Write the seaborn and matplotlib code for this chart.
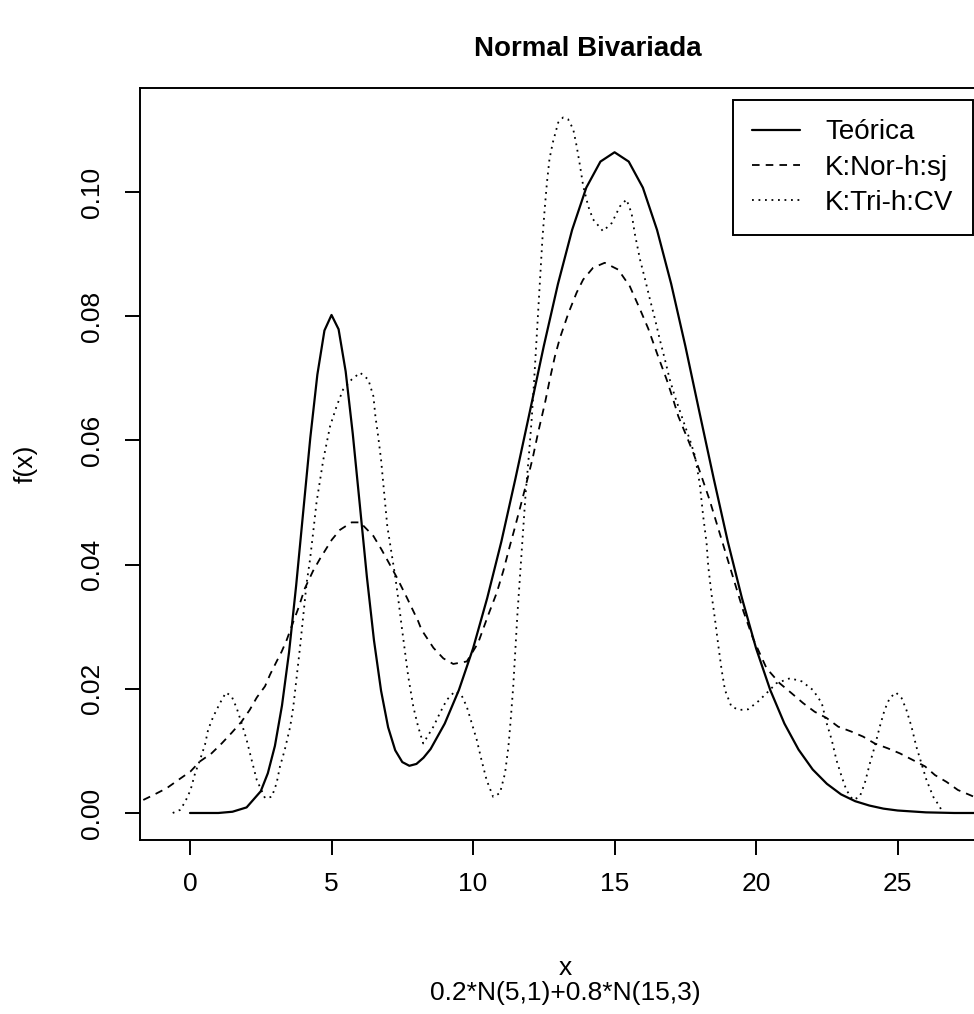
import matplotlib
matplotlib.use("Agg")
import matplotlib.pyplot as plt
import seaborn as sns

# Teórica: 0.2*N(5,1)+0.8*N(15,3), values
x_teorica = [0, 0.5, 1, 1.5, 2, 2.5, 2.75, 3, 3.25, 3.5,
             3.75, 4, 4.25, 4.5, 4.75, 5, 5.25, 5.5, 5.75, 6,
             6.25, 6.5, 6.75, 7, 7.25, 7.5, 7.75, 8, 8.25, 8.5,
             9, 9.5, 10, 10.5, 11, 11.5, 12, 12.5, 13, 13.5,
             14, 14.5, 15, 15.5, 16, 16.5, 17, 17.5, 18, 18.5,
             19, 19.5, 20, 20.5, 21, 21.5, 22, 22.5, 23, 23.5,
             24, 24.5, 25, 26, 27, 28]
y_teorica = [0.0000, 0.0000, 0.0000, 0.0002, 0.0009, 0.0035, 0.0064, 0.0108, 0.0173, 0.0259,
             0.0366, 0.0485, 0.0604, 0.0706, 0.0777, 0.0802, 0.0779, 0.0711, 0.0611, 0.0496,
             0.0380, 0.0278, 0.0197, 0.0138, 0.0101, 0.0082, 0.0076, 0.0079, 0.0089, 0.0103,
             0.0144, 0.0198, 0.0265, 0.0346, 0.0437, 0.0539, 0.0645, 0.0752, 0.0852, 0.0939,
             0.1007, 0.1049, 0.1064, 0.1049, 0.1007, 0.0939, 0.0852, 0.0752, 0.0645, 0.0539,
             0.0437, 0.0346, 0.0265, 0.0198, 0.0144, 0.0102, 0.0070, 0.0047, 0.0030, 0.0019,
             0.0012, 0.0007, 0.0004, 0.0001, 0.0000, 0.0000]

# K:Nor-h:sj (dashed)
x_nor_sj = [-1.65, -1.29, -0.82, -0.42, 0.02, 0.35, 0.76, 1.12, 1.47, 1.82,
            2.11, 2.36, 2.65, 2.83, 3.06, 3.24, 3.42, 3.65, 3.83, 4.06,
            4.35, 4.60, 5.01, 5.30, 5.71, 6.01, 6.48, 6.77, 7.00, 7.30,
            7.66, 8.06, 8.18, 8.60, 8.95, 9.30, 9.78, 10.18, 10.53, 10.84,
            11.07, 11.30, 11.48, 11.71, 11.89, 12.10, 12.31, 12.54, 12.72, 12.89,
            13.07, 13.37, 13.66, 13.89, 14.24, 14.65, 15.13, 15.54, 15.90, 16.19,
            16.54, 16.84, 17.07, 17.25, 17.55, 17.78, 18.05, 18.35, 18.65, 18.95,
            19.25, 19.55, 19.90, 20.37, 20.83, 21.25, 21.66, 22.07, 22.49, 22.90,
            23.37, 23.78, 24.19, 24.66, 25.08, 25.55, 25.97, 26.32, 26.73, 27.13,
            27.55, 28.00]
y_nor_sj = [0.0021, 0.0029, 0.0040, 0.0053, 0.0067, 0.0083, 0.0096, 0.0112, 0.0129, 0.0147,
            0.0166, 0.0186, 0.0204, 0.0223, 0.0244, 0.0260, 0.0279, 0.0308, 0.0330, 0.0362,
            0.0390, 0.0410, 0.0440, 0.0456, 0.0468, 0.0468, 0.0446, 0.0424, 0.0405, 0.0380,
            0.0347, 0.0309, 0.0295, 0.0266, 0.0249, 0.0240, 0.0244, 0.0274, 0.0318, 0.0355,
            0.0390, 0.0430, 0.0460, 0.0500, 0.0532, 0.0570, 0.0615, 0.0660, 0.0700, 0.0735,
            0.0765, 0.0805, 0.0838, 0.0859, 0.0878, 0.0886, 0.0875, 0.0848, 0.0811, 0.0780,
            0.0735, 0.0698, 0.0666, 0.0639, 0.0606, 0.0580, 0.0545, 0.0505, 0.0460, 0.0415,
            0.0370, 0.0325, 0.0280, 0.0233, 0.0209, 0.0193, 0.0177, 0.0163, 0.0153, 0.0139,
            0.0131, 0.0123, 0.0112, 0.0104, 0.0096, 0.0085, 0.0075, 0.0061, 0.0050, 0.0037,
            0.0029, 0.0020]

# K:Tri-h:CV (dotted)
x_tri_cv = [-0.61, -0.35, -0.17, 0.02, 0.18, 0.35, 0.53, 0.64, 0.82, 1.06,
            1.27, 1.47, 1.65, 1.82, 2.00, 2.18, 2.36, 2.65, 2.89, 3.06,
            3.18, 3.35, 3.54, 3.65, 3.77, 3.89, 4.00, 4.12, 4.24, 4.35,
            4.47, 4.60, 4.71, 4.95, 5.18, 5.41, 5.71, 6.01, 6.30, 6.48,
            6.55, 6.65, 6.75, 6.86, 6.97, 7.12, 7.25, 7.36, 7.48, 7.60,
            7.71, 7.89, 8.06, 8.24, 8.60, 8.83, 9.07, 9.36, 9.59, 9.78,
            9.95, 10.13, 10.30, 10.48, 10.71, 10.95, 11.13, 11.25, 11.33, 11.42,
            11.50, 11.57, 11.65, 11.72, 11.79, 11.86, 11.93, 11.98, 12.07, 12.16,
            12.23, 12.31, 12.38, 12.45, 12.53, 12.61, 12.70, 12.82, 13.01, 13.18,
            13.36, 13.54, 13.66, 13.78, 13.89, 14.07, 14.24, 14.59, 14.90, 15.19,
            15.42, 15.60, 15.71, 15.90, 16.08, 16.25, 16.43, 16.60, 16.78, 16.95,
            17.13, 17.31, 17.49, 17.66, 17.84, 18.01, 18.13, 18.25, 18.31, 18.42,
            18.55, 18.67, 18.78, 18.90, 19.13, 19.42, 19.72, 20.08, 20.37, 20.72,
            21.20, 21.61, 22.01, 22.32, 22.49, 22.67, 22.84, 23.02, 23.19, 23.42,
            23.66, 23.84, 24.02, 24.19, 24.37, 24.54, 24.72, 24.94, 25.14, 25.31,
            25.49, 25.66, 25.84, 26.02, 26.26, 26.49, 26.59]
y_tri_cv = [0.0000, 0.0005, 0.0018, 0.0037, 0.0064, 0.0085, 0.0110, 0.0134, 0.0155, 0.0177,
            0.0194, 0.0188, 0.0169, 0.0145, 0.0118, 0.0085, 0.0053, 0.0024, 0.0026, 0.0048,
            0.0075, 0.0102, 0.0139, 0.0171, 0.0220, 0.0268, 0.0317, 0.0370, 0.0408, 0.0451,
            0.0500, 0.0537, 0.0569, 0.0623, 0.0655, 0.0682, 0.0698, 0.0709, 0.0698, 0.0671,
            0.0639, 0.0606, 0.0569, 0.0516, 0.0462, 0.0419, 0.0381, 0.0344, 0.0300, 0.0258,
            0.0220, 0.0171, 0.0139, 0.0112, 0.0139, 0.0161, 0.0182, 0.0196, 0.0190, 0.0171,
            0.0145, 0.0118, 0.0085, 0.0053, 0.0026, 0.0032, 0.0064, 0.0107, 0.0150, 0.0204,
            0.0268, 0.0322, 0.0376, 0.0424, 0.0473, 0.0516, 0.0553, 0.0580, 0.0633, 0.0698,
            0.0752, 0.0816, 0.0870, 0.0924, 0.0972, 0.1015, 0.1053, 0.1080, 0.1112, 0.1120,
            0.1117, 0.1101, 0.1074, 0.1042, 0.1010, 0.0977, 0.0956, 0.0937, 0.0950, 0.0977,
            0.0988, 0.0966, 0.0934, 0.0891, 0.0859, 0.0827, 0.0795, 0.0762, 0.0730, 0.0698,
            0.0671, 0.0647, 0.0623, 0.0601, 0.0575, 0.0530, 0.0478, 0.0435, 0.0397, 0.0354,
            0.0311, 0.0268, 0.0231, 0.0198, 0.0171, 0.0166, 0.0167, 0.0180, 0.0193, 0.0209,
            0.0217, 0.0212, 0.0198, 0.0177, 0.0145, 0.0118, 0.0085, 0.0059, 0.0037, 0.0021,
            0.0026, 0.0048, 0.0080, 0.0107, 0.0139, 0.0166, 0.0185, 0.0194, 0.0185, 0.0166,
            0.0139, 0.0107, 0.0080, 0.0053, 0.0026, 0.0010, 0.0000]

labels = ["Teórica", "K:Nor-h:sj", "K:Tri-h:CV"]
x_ticks = [0, 5, 10, 15, 20, 25]
y_ticks = [0.00, 0.02, 0.04, 0.06, 0.08, 0.10]

sns.set_theme(style="ticks")
plt.rcParams['font.family'] = ['Liberation Sans', 'DejaVu Sans']
plt.rcParams['text.color'] = 'black'
plt.rcParams['axes.labelcolor'] = 'black'

fig = plt.figure(figsize=(9.74, 10.14), dpi=100)
# plot box in pixels: left 140, right 980 (past the image edge), top 88, bottom 840
ax = fig.add_axes([140 / 974, 174 / 1014, 840 / 974, 752 / 1014])

sns.lineplot(x=x_teorica, y=y_teorica, ax=ax, color="black", linewidth=1.6,
             label=labels[0], sort=False, estimator=None)
sns.lineplot(x=x_nor_sj, y=y_nor_sj, ax=ax, color="black", linewidth=1.3,
             linestyle=(0, (4.2, 3.4)), label=labels[1], sort=False, estimator=None)
sns.lineplot(x=x_tri_cv, y=y_tri_cv, ax=ax, color="black", linewidth=1.3,
             linestyle=(0, (1, 2.6)), label=labels[2], sort=False, estimator=None)

ax.set_xlim(-1.766, 27.91)
ax.set_ylim(-0.00435, 0.11675)

ax.set_xticks(x_ticks)
ax.set_xticklabels([str(t) for t in x_ticks])
ax.set_yticks(y_ticks)
ax.set_yticklabels([f"{t:.2f}" for t in y_ticks], rotation=90, va="center")
ax.tick_params(axis="both", direction="out", length=10.8, width=1.4,
               labelsize=19, color="black", labelcolor="black")
ax.tick_params(axis="x", pad=12)
ax.tick_params(axis="y", pad=15)
for s in ax.spines.values():
    s.set_linewidth(1.4)
    s.set_color("black")

ax.set_title("Normal Bivariada", fontsize=20, fontweight="bold", pad=23,
             x=(588 - 140) / 840, color="black")

ax.set_xlabel("x", fontsize=19)
ax.xaxis.label.set_va("baseline")
ax.xaxis.set_label_coords((565 - 140) / 840, (840 - 975) / 752)
ax.set_ylabel("f(x)", fontsize=19)
ax.yaxis.label.set_va("center")
ax.yaxis.set_label_coords((26 - 140) / 840, 0.5)
ax.text((565 - 140) / 840, (840 - 1000) / 752, "0.2*N(5,1)+0.8*N(15,3)",
        transform=ax.transAxes, ha="center", va="baseline", fontsize=19)

leg = ax.legend(loc="upper right", bbox_to_anchor=(973 / 974, 1 - 100 / 1014),
                bbox_transform=fig.transFigure, borderaxespad=0, frameon=True,
                fancybox=False, shadow=False, edgecolor="black", framealpha=1,
                fontsize=20, handlelength=1.73, handletextpad=0.9,
                borderpad=0.7, labelspacing=0.33)
leg.get_frame().set_linewidth(1.4)

fig.savefig("out.png", dpi=100)
